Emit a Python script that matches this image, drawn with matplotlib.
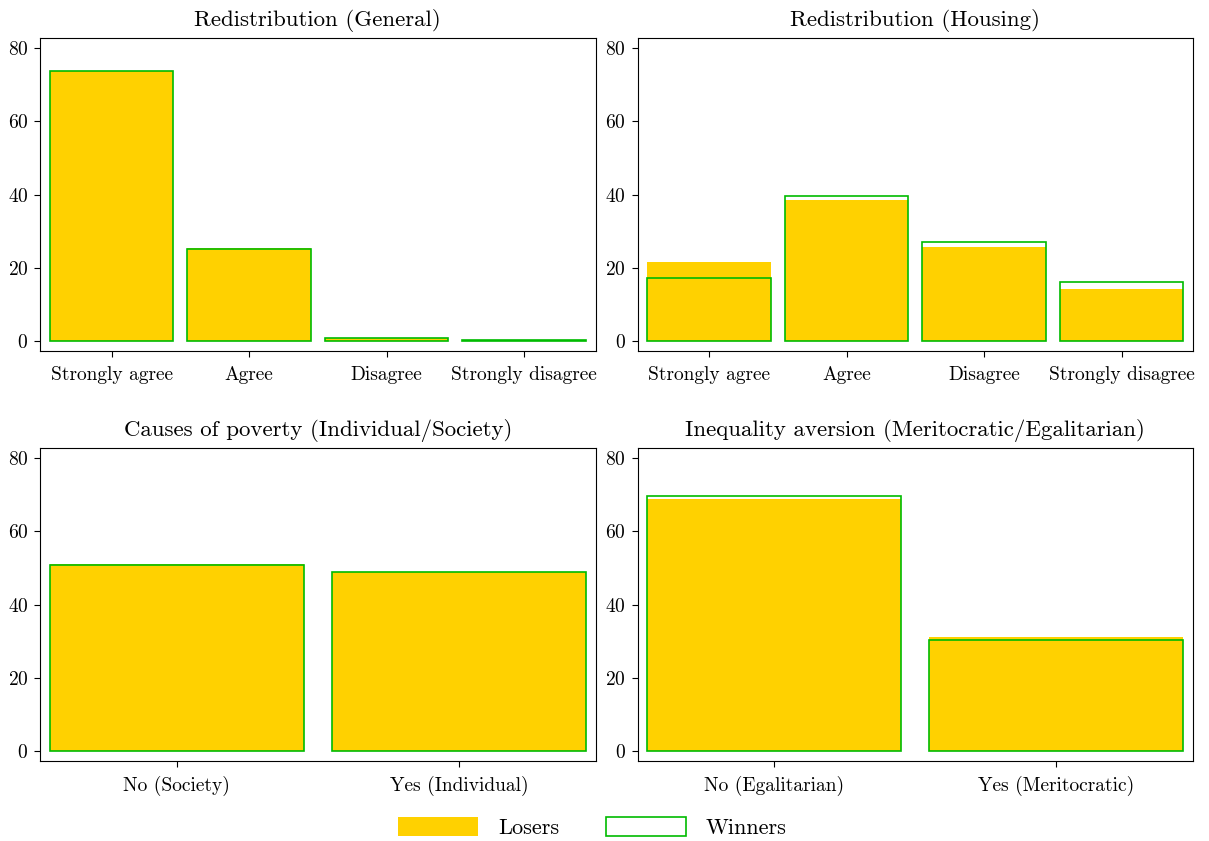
import numpy as np
import matplotlib
matplotlib.use("Agg")
import matplotlib.pyplot as plt
from matplotlib.patches import Patch

plt.rcParams["font.family"] = "serif"
plt.rcParams["font.serif"] = ["cmr10", "DejaVu Serif"]
plt.rcParams["mathtext.fontset"] = "cm"
plt.rcParams["axes.formatter.use_mathtext"] = True

LOSER_COLOR = "#FFD100"
WINNER_COLOR = "#00BB00"

# share of respondents (%) per answer, losers vs winners
redist_general_cats = ["Strongly agree", "Agree", "Disagree", "Strongly disagree"]
redist_general_losers = [73.6, 25.3, 0.8, 0.3]
redist_general_winners = [73.6, 25.0, 0.8, 0.2]

redist_housing_cats = ["Strongly agree", "Agree", "Disagree", "Strongly disagree"]
redist_housing_losers = [21.6, 38.4, 25.8, 14.2]
redist_housing_winners = [17.1, 39.6, 27.0, 16.0]

poverty_cats = ["No (Society)", "Yes (Individual)"]
poverty_losers = [51.0, 49.0]
poverty_winners = [50.8, 49.0]

aversion_cats = ["No (Egalitarian)", "Yes (Meritocratic)"]
aversion_losers = [68.8, 31.2]
aversion_winners = [69.5, 30.3]

panels = [
    ("Redistribution (General)", redist_general_cats, redist_general_losers, redist_general_winners),
    ("Redistribution (Housing)", redist_housing_cats, redist_housing_losers, redist_housing_winners),
    ("Causes of poverty (Individual/Society)", poverty_cats, poverty_losers, poverty_winners),
    ("Inequality aversion (Meritocratic/Egalitarian)", aversion_cats, aversion_losers, aversion_winners),
]

fig, axes = plt.subplots(2, 2, figsize=(12.09, 8.41), dpi=100)
fig.subplots_adjust(left=0.0331, right=0.9868, top=0.9548, bottom=0.0951,
                    wspace=0.0755, hspace=0.31)

for ax, (title, cats, losers, winners) in zip(axes.flat, panels):
    x = np.arange(1, len(cats) + 1)
    ax.bar(x, losers, width=0.9, color=LOSER_COLOR, linewidth=0)
    ax.bar(x, winners, width=0.9, facecolor="none", edgecolor=WINNER_COLOR, linewidth=1.2)
    pad = 0.07 if len(cats) > 2 else 0.034
    ax.set_xlim(0.55 - pad, len(cats) + 0.45 + pad)
    ax.set_ylim(-2.7, 82.7)
    ax.set_xticks(x)
    ax.set_xticklabels(cats)
    ax.set_yticks([0, 20, 40, 60, 80])
    ax.tick_params(direction="out", length=4.5, width=0.8, labelsize=14, pad=4)
    ax.tick_params(axis="x", pad=6)
    for s in ax.spines.values():
        s.set_linewidth(0.8)
    ax.set_title(title, fontsize=16.5, pad=8.5)

handles = [Patch(facecolor=LOSER_COLOR, edgecolor="none", label="Losers"),
           Patch(facecolor="white", edgecolor=WINNER_COLOR, linewidth=1.2, label="Winners")]
fig.legend(handles=handles, loc="lower center", bbox_to_anchor=(0.49, -0.02), ncol=2,
           frameon=False, fontsize=16, handlelength=3.6, handleheight=0.95,
           handletextpad=0.9, columnspacing=2.1)

fig.savefig("out.png", dpi=100)
